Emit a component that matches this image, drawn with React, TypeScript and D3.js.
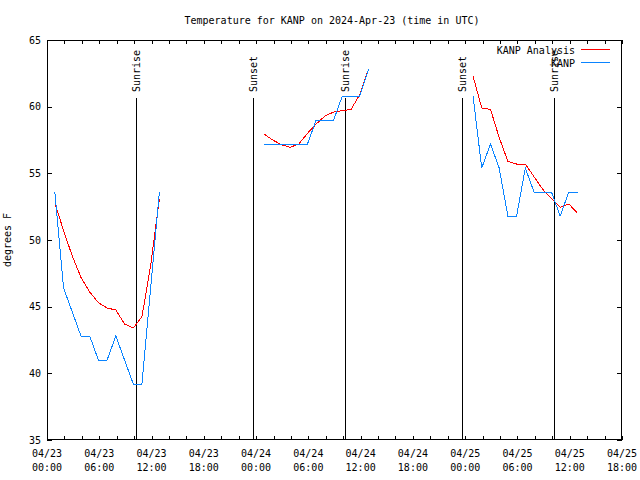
import React from 'react';
import * as d3 from 'd3';

// hours since 2024-04-23 00:00 UTC
const obsHours: (number)[] = [
  0.9, 1.9, 2.9, 3.9, 4.9, 5.9, 6.9, 7.9, 8.9, 9.9, 10.9, 11.9, 12.9,
  24.9, 25.9, 26.9, 27.9, 28.9, 29.9, 30.9, 31.9, 32.9, 33.9, 34.9, 35.9, 36.9,
  48.9, 49.9, 50.9, 51.9, 52.9, 53.9, 54.9, 55.9, 56.9, 57.9, 58.9, 59.9, 60.9,
];
const segmentIds: number[] = [
  0, 0, 0, 0, 0, 0, 0, 0, 0, 0, 0, 0, 0,
  1, 1, 1, 1, 1, 1, 1, 1, 1, 1, 1, 1, 1,
  2, 2, 2, 2, 2, 2, 2, 2, 2, 2, 2, 2, 2,
];
const kanpAnalysis: number[] = [
  52.8, 50.7, 48.8, 47.2, 46.1, 45.3, 44.9, 44.75, 43.7, 43.4, 44.25, 48.1, 53.1,
  57.95, 57.5, 57.15, 56.95, 57.2, 58.0, 58.7, 59.3, 59.6, 59.7, 59.8, 60.9, 62.8,
  62.3, 59.9, 59.8, 57.7, 55.9, 55.7, 55.7, 54.75, 53.8, 53.1, 52.45, 52.7, 52.0,
];
const kanpObs: number[] = [
  53.6, 46.4, 44.6, 42.8, 42.8, 41.0, 41.0, 42.8, 41.0, 39.2, 39.2, 46.4, 53.6,
  57.2, 57.2, 57.2, 57.2, 57.2, 57.2, 59.0, 59.0, 59.0, 60.8, 60.8, 60.8, 62.8,
  60.8, 55.4, 57.2, 55.4, 51.8, 51.8, 55.4, 53.6, 53.6, 53.6, 51.8, 53.6, 53.6,
];

const sunEvents: { hour: number; label: string }[] = [
  { hour: 10.22, label: 'Sunrise' },
  { hour: 23.65, label: 'Sunset' },
  { hour: 34.21, label: 'Sunrise' },
  { hour: 47.63, label: 'Sunset' },
  { hour: 58.2, label: 'Sunrise' },
];

const xLabelHours: number[] = [0, 6, 12, 18, 24, 30, 36, 42, 48, 54, 60, 66];
const xLabelDates: string[] = ['04/23', '04/23', '04/23', '04/23', '04/24', '04/24', '04/24', '04/24', '04/25', '04/25', '04/25', '04/25'];
const xLabelTimes: string[] = ['00:00', '06:00', '12:00', '18:00', '00:00', '06:00', '12:00', '18:00', '00:00', '06:00', '12:00', '18:00'];
const xMinorTicks: number[] = d3.range(0, 67, 2);
const yTicks: number[] = [35, 40, 45, 50, 55, 60, 65];

const W = 640, H = 480;
const L = 47, R = 622, T = 40, B = 440;
const FONT = '"DejaVu Sans Mono", monospace';

export default function App() {
  const x = d3.scaleLinear().domain([0, 66]).range([L, R]);
  const y = d3.scaleLinear().domain([35, 65]).range([B, T]);

  const idx = obsHours.map((_, i) => i);
  const mkLine = (vals: number[]) => {
    const segs = [0, 1, 2];
    return segs.map(s => {
      const pts = idx.filter(i => segmentIds[i] === s);
      return d3.line<number>().x(i => x(obsHours[i])).y(i => y(vals[i]))(pts) || '';
    });
  };
  const redPaths = mkLine(kanpAnalysis);
  const bluePaths = mkLine(kanpObs);

  const red = '#ff0000';
  const blue = '#0a84ff';

  return (
    <svg width={W} height={H} style={{ position: 'absolute', left: 0, top: 0, background: '#fff' }}
      fontFamily={FONT} fontSize={10}>
      <rect x={0} y={0} width={W} height={H} fill="#fff" />
      {/* title */}
      <text x={332} y={23.5} textAnchor="middle">Temperature for KANP on 2024-Apr-23 (time in UTC)</text>

      {/* ticks */}
      <g stroke="#000" shapeRendering="crispEdges">
        {xMinorTicks.map(h => (
          <g key={h}>
            <line x1={Math.round(x(h)) + 0.5} x2={Math.round(x(h)) + 0.5} y1={B} y2={B - 4} />
            <line x1={Math.round(x(h)) + 0.5} x2={Math.round(x(h)) + 0.5} y1={T} y2={T + 4} />
          </g>
        ))}
        {yTicks.map(v => (
          <g key={v}>
            <line x1={L} x2={L + 5} y1={Math.round(y(v)) + 0.5} y2={Math.round(y(v)) + 0.5} />
            <line x1={R} x2={R - 5} y1={Math.round(y(v)) + 0.5} y2={Math.round(y(v)) + 0.5} />
          </g>
        ))}
      </g>

      {/* y labels */}
      {yTicks.map(v => (
        <text key={v} x={41} y={y(v) + 3.5} textAnchor="end">{v}</text>
      ))}
      <text transform="translate(11,240) rotate(-90)" textAnchor="middle">degrees F</text>

      {/* x labels */}
      {xLabelHours.map((h, i) => (
        <g key={h}>
          <text x={x(h)} y={457} textAnchor="middle">{xLabelDates[i]}</text>
          <text x={x(h)} y={471} textAnchor="middle">{xLabelTimes[i]}</text>
        </g>
      ))}

      {/* sun events */}
      {sunEvents.map((e, i) => (
        <g key={i}>
          <line x1={Math.round(x(e.hour)) + 0.5} x2={Math.round(x(e.hour)) + 0.5} y1={98} y2={B}
            stroke="#000" shapeRendering="crispEdges" />
          <text transform={`translate(${Math.round(x(e.hour)) + 0.5},92) rotate(-90)`} dominantBaseline="central">{e.label}</text>
        </g>
      ))}

      {/* data */}
      <g fill="none" strokeWidth={1} shapeRendering="crispEdges">
        {redPaths.map((d, i) => <path key={'r' + i} d={d} stroke={red} />)}
        {bluePaths.map((d, i) => <path key={'b' + i} d={d} stroke={blue} />)}
      </g>

      {/* legend */}
      <text x={575} y={53.5} textAnchor="end">KANP Analysis</text>
      <line x1={581} x2={610} y1={49.5} y2={49.5} stroke={red} shapeRendering="crispEdges" />
      <text x={575} y={66.5} textAnchor="end">KANP</text>
      <line x1={581} x2={610} y1={62.5} y2={62.5} stroke={blue} shapeRendering="crispEdges" />

      {/* border */}
      <rect x={L + 0.5} y={T + 0.5} width={R - L - 1} height={B - T - 1} fill="none" stroke="#000" shapeRendering="crispEdges" />
    </svg>
  );
}
